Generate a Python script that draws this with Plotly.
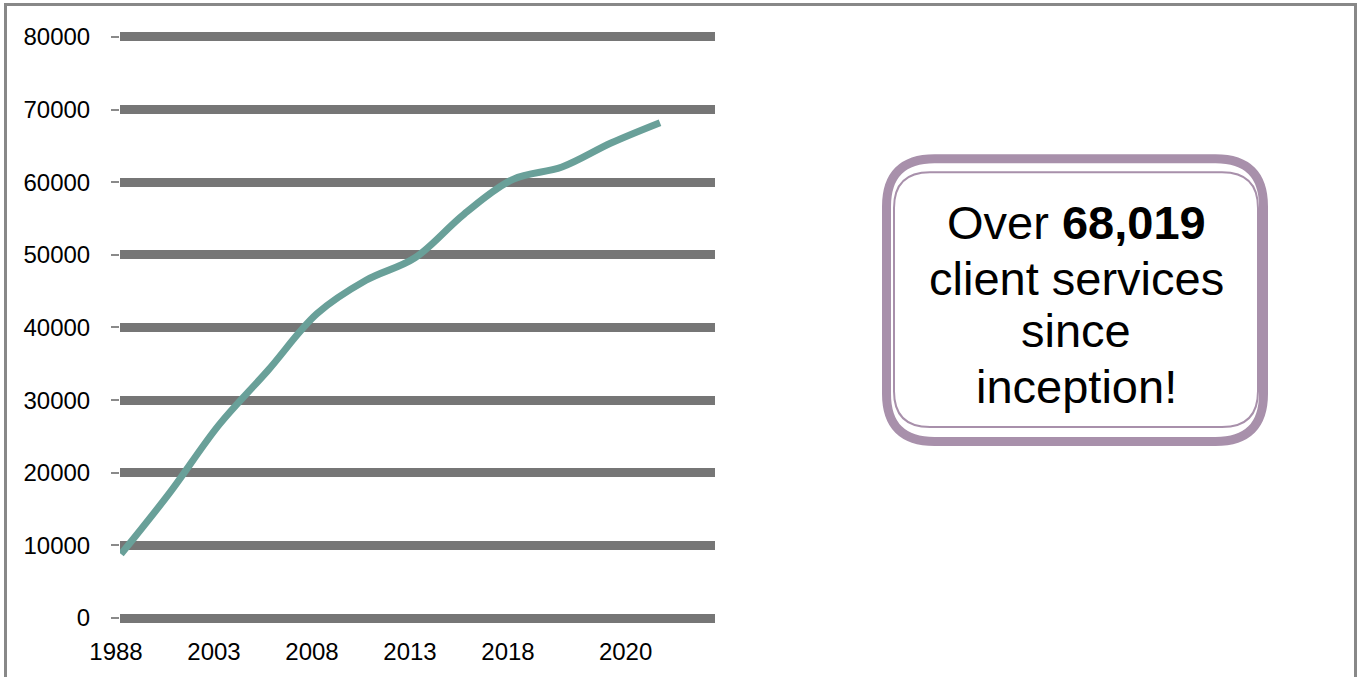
import plotly.graph_objects as go

# ---- data ----
point_index = [0, 1, 2, 3, 4, 5, 6, 7, 8, 9, 10, 11]
client_services = [8800, 17300, 26600, 34100, 41900, 46500, 49600, 55600, 60400, 62100, 65400, 68200]
x_tick_pos = [0, 2, 4, 6, 8, 10.4]
x_tick_labels = ["1988", "2003", "2008", "2013", "2018", "2020"]
y_tick_vals = [0, 10000, 20000, 30000, 40000, 50000, 60000, 70000, 80000]
y_tick_labels = ["0", "10000", "20000", "30000", "40000", "50000", "60000", "70000", "80000"]
box_lines = ["Over <b>68,019</b>", "client services", "since", "inception!"]

# ---- layout geometry (pixels) ----
W, H = 1361, 677
L, R_EDGE = 120, 715
T, B_EDGE = 25, 630
PW, PH = R_EDGE - L, B_EDGE - T

def px(x):
    return (x - L) / PW

def py(y):
    return (B_EDGE - y) / PH

def rounded_path(x0, y0, x1, y1, r):
    pts = [
        ("M", [(x0 + r, y0)]),
        ("L", [(x1 - r, y0)]),
        ("Q", [(x1, y0), (x1, y0 + r)]),
        ("L", [(x1, y1 - r)]),
        ("Q", [(x1, y1), (x1 - r, y1)]),
        ("L", [(x0 + r, y1)]),
        ("Q", [(x0, y1), (x0, y1 - r)]),
        ("L", [(x0, y0 + r)]),
        ("Q", [(x0, y0), (x0 + r, y0)]),
    ]
    s = ""
    for cmd, ps in pts:
        s += cmd + " " + " ".join(f"{px(a):.5f},{py(b):.5f}" for a, b in ps) + " "
    return s + "Z"

FONT = "Liberation Sans, Arial, sans-serif"
GRID = "#767676"
PURPLE = "#A890AB"

fig = go.Figure()
fig.add_trace(go.Scatter(
    x=point_index, y=client_services, mode="lines",
    line=dict(color="#69A099", width=7, shape="spline", smoothing=1.0),
    hoverinfo="skip", showlegend=False,
))

y_per_px = 80000 / (621 - 37)
y_top = 80000 + (37 - T) * y_per_px
y_bot = 0 - (B_EDGE - 621) * y_per_px
x_per_px = 11 / (660 - 121)
x_left = 0 - (121 - L) * x_per_px
x_right = 11 + (R_EDGE - 660) * x_per_px

fig.update_layout(
    width=W, height=H,
    margin=dict(l=L, r=W - R_EDGE, t=T, b=H - B_EDGE, pad=0),
    paper_bgcolor="white", plot_bgcolor="white",
    font=dict(family=FONT, color="black", size=24),
    xaxis=dict(
        range=[x_left, x_right], showgrid=False, zeroline=False, showline=False,
        tickmode="array", tickvals=x_tick_pos, ticktext=x_tick_labels,
        ticks="", tickfont=dict(size=24, family=FONT, color="black"),
        ticklabelstandoff=8, ticklabelshift=-5, fixedrange=True,
    ),
    yaxis=dict(
        range=[y_bot, y_top], showgrid=True, gridcolor=GRID, gridwidth=9,
        zeroline=False, showline=False,
        tickmode="array", tickvals=y_tick_vals, ticktext=y_tick_labels,
        ticks="outside", ticklen=8, tickwidth=2, tickcolor="#8a8a8a",
        tickfont=dict(size=24, family=FONT, color="black"),
        ticklabelstandoff=16, fixedrange=True,
    ),
    shapes=[
        dict(type="rect", xref="paper", yref="paper",
             x0=px(5.5), x1=px(1355.5), y0=py(720), y1=py(4.5),
             line=dict(color="#888888", width=3), fillcolor="rgba(0,0,0,0)", layer="below"),
        dict(type="path", xref="paper", yref="paper",
             path=rounded_path(886.5, 159.5, 1263.5, 443.5, 48),
             line=dict(color=PURPLE, width=9), fillcolor="white", layer="above"),
        dict(type="path", xref="paper", yref="paper",
             path=rounded_path(894, 173, 1258, 429, 36),
             line=dict(color=PURPLE, width=2), fillcolor="rgba(0,0,0,0)", layer="above"),
    ],
    annotations=[
        dict(xref="paper", yref="paper", x=px(1076), y=py(bl - 15), text=t,
             showarrow=False, xanchor="center", yanchor="middle",
             font=dict(size=47, family=FONT, color="black"))
        for t, bl in zip(box_lines, [238, 295, 347, 403])
    ],
)

fig.write_html(
    "out.html",
    config={"displayModeBar": False},
    post_script="document.body.style.margin='0';document.body.style.overflow='hidden';",
)
